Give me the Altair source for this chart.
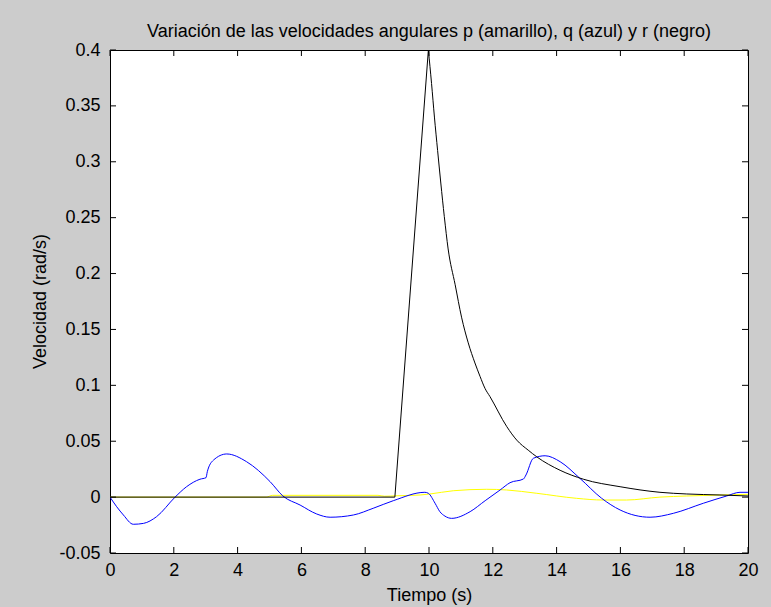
import altair as alt
import pandas as pd

# Angular rates p, q, r (rad/s) against time (s)
t_p = [0, 4.9, 5.1, 8.4, 8.6, 9.0, 9.72, 10.03, 10.76, 11.81, 12.43, 13.38,
       14.63, 15.46, 16.19, 17.24, 18.08, 19.12, 20.0]
v_p = [0, 0, 0.0016, 0.0016, 0.0008, 0.0012, 0.0019, 0.0028, 0.0057, 0.007,
       0.0064, 0.0034, -0.0011, -0.0026, -0.0026, 0.0, 0.001, 0.0019, 0.0025]

t_q = [0, 0.21, 0.42, 0.73, 1.05, 1.46, 2.04, 2.4, 2.82, 3.01, 3.05, 3.24,
       3.66, 4.28, 5.02, 5.42, 5.96, 6.48, 6.9, 7.63, 8.25, 8.88, 9.87, 9.98,
       10.19, 10.34, 10.5, 10.71, 11.29, 11.76, 12.23, 12.54, 12.96, 13.04,
       13.27, 13.64, 14.11, 14.73, 15.41, 15.99, 16.93, 17.66, 18.6, 19.33,
       19.75, 20.0]
v_q = [0, -0.0086, -0.016, -0.0243, -0.0235, -0.0175, 0.0, 0.0093, 0.016,
       0.0174, 0.0227, 0.033, 0.0386, 0.0317, 0.0138, 0.001, -0.0071, -0.0151,
       -0.018, -0.016, -0.01, -0.0032, 0.0043, 0.0034, -0.0055, -0.013,
       -0.017, -0.019, -0.013, -0.0032, 0.0064, 0.0129, 0.0162, 0.0198,
       0.0347, 0.037, 0.0317, 0.0168, -0.001, -0.0115, -0.018, -0.0145,
       -0.0055, 0.001, 0.0043, 0.0043]

t_r = [0, 8.93, 9.98, 10.08, 10.17, 10.27, 10.37, 10.48, 10.6, 10.82, 11.02,
       11.23, 11.44, 11.6, 11.76, 11.91, 12.44, 12.75, 13.11, 13.38, 14.11,
       14.84, 15.99, 17.24, 18.08, 19.12, 20.0]
v_r = [0, 0, 0.4, 0.37, 0.34, 0.31, 0.281, 0.251, 0.222, 0.19, 0.161, 0.138,
       0.12, 0.108, 0.097, 0.09, 0.063, 0.051, 0.042, 0.036, 0.024, 0.016,
       0.0093, 0.0043, 0.0028, 0.0019, 0.001]
R_PEAK = 2  # index of the peak of r: linear ramp before, smooth decay after

x_ticks = [0, 2, 4, 6, 8, 10, 12, 14, 16, 18, 20]
y_ticks = [-0.05, 0, 0.05, 0.1, 0.15, 0.2, 0.25, 0.3, 0.35, 0.4]

W, H = 638, 503
FONT = "Liberation Sans"
TICK = 6

x_scale = alt.Scale(domain=[0, 20], nice=False, zero=False)
y_scale = alt.Scale(domain=[-0.05, 0.4], nice=False, zero=False)

x_enc = alt.X(
    "t:Q", scale=x_scale,
    axis=alt.Axis(values=x_ticks, title="Tiempo (s)", format="d",
                  labelFlush=False, labelOverlap=False, labelPadding=8,
                  titleBaseline="alphabetic", titleY=47),
)
y_enc = alt.Y(
    "v:Q", scale=y_scale,
    axis=alt.Axis(values=y_ticks, title="Velocidad (rad/s)", format=".2~f",
                  labelExpr="replace(datum.label, '\u2212', '-')",
                  labelFlush=False, labelOverlap=False, labelPadding=10,
                  titleBaseline="alphabetic", titleAngle=-90, titleAlign="center",
                  titleX=-65, titleY=251),
)


def series(t, v, color, interp):
    return alt.Chart(pd.DataFrame({"t": t, "v": v})).mark_line(
        color=color, strokeWidth=1, interpolate=interp, clip=True
    ).encode(x=x_enc, y=y_enc)


p_line = series(t_p, v_p, "#ffff00", "monotone")
q_line = series(t_q, v_q, "#0000ff", "monotone")
r_rise = series(t_r[:R_PEAK + 1], v_r[:R_PEAK + 1], "#000000", "linear")
r_decay = series(t_r[R_PEAK:], v_r[R_PEAK:], "#000000", "monotone")

# Inward tick marks on all four sides of the box
xt = pd.DataFrame({"t": x_ticks})
yt = pd.DataFrame({"v": y_ticks})
tick_style = dict(color="black", strokeWidth=1)
ticks_bottom = alt.Chart(xt).mark_rule(**tick_style).encode(
    x=x_enc, y=alt.value(H), y2=alt.value(H - TICK))
ticks_top = alt.Chart(xt).mark_rule(**tick_style).encode(
    x=x_enc, y=alt.value(0), y2=alt.value(TICK))
ticks_left = alt.Chart(yt).mark_rule(**tick_style).encode(
    y=y_enc, x=alt.value(0), x2=alt.value(TICK))
ticks_right = alt.Chart(yt).mark_rule(**tick_style).encode(
    y=y_enc, x=alt.value(W), x2=alt.value(W - TICK))

chart = alt.layer(
    p_line, q_line, r_rise, r_decay,
    ticks_bottom, ticks_top, ticks_left, ticks_right,
).properties(
    width=W,
    height=H,
    title=alt.TitleParams(
        "Variación de las velocidades angulares p (amarillo), q (azul) y r (negro)",
        font=FONT, fontSize=18, fontWeight="normal", color="black",
        anchor="middle", baseline="alphabetic", offset=13, dy=27,
    ),
    background="#cccccc",
    padding={"left": 110, "top": 50, "right": 23, "bottom": 54},
    autosize=alt.AutoSizeParams(type="none"),
).configure_view(
    fill="white", stroke="black", strokeWidth=1,
).configure_axis(
    domain=False, ticks=False, grid=False,
    labelFont=FONT, labelFontSize=18, labelColor="black",
    titleFont=FONT, titleFontSize=18, titleFontWeight="normal", titleColor="black",
)

chart.save("out.html", embed_options={"renderer": "svg", "actions": False})
